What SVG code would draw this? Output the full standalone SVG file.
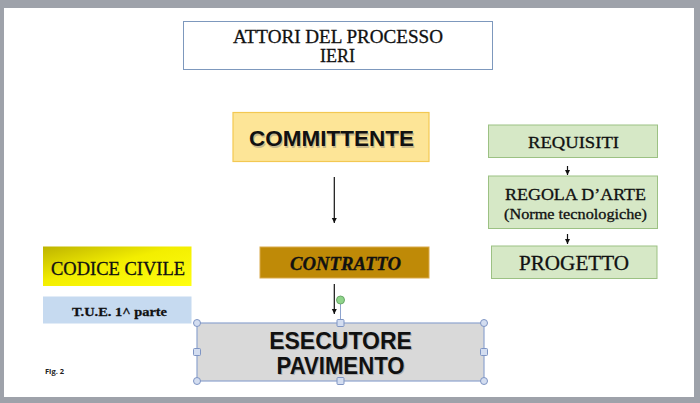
<svg xmlns="http://www.w3.org/2000/svg" width="700" height="403" viewBox="0 0 700 403">
<style>
.serif{font-family:"Liberation Serif","Times New Roman",serif;text-anchor:middle;fill:#111;stroke:#111;stroke-width:0.3}
.sans{font-family:"Liberation Sans",Arial,sans-serif;font-weight:bold;text-anchor:middle;fill:#111}
.green{fill:#d6e8c6;stroke:#9cc183;stroke-width:1}
.conn{stroke:#111;stroke-width:1.2;fill:none;marker-end:url(#ah)}
.hc{fill:#d3ddf0;stroke:#7f95c4;stroke-width:1}
.shadow{fill:#777;opacity:0.4}
</style>
<defs>
<marker id="ah" markerWidth="6" markerHeight="6" refX="5" refY="3" orient="auto" markerUnits="userSpaceOnUse">
<path d="M0,0.5 L5,3 L0,5.5 z" fill="#111"/>
</marker>
<linearGradient id="yg" x1="0" y1="0" x2="1" y2="1">
<stop offset="0" stop-color="#bdb300"/>
<stop offset="0.45" stop-color="#f3ee00"/>
<stop offset="1" stop-color="#ffff10"/>
</linearGradient>
</defs>
<rect x="0" y="0" width="700" height="403" fill="#9ea2aa"/>
<rect x="4" y="8" width="690" height="389" fill="#ffffff"/>

<g id="title">
<rect x="183.5" y="21.5" width="309" height="48" fill="#ffffff" stroke="#7d98bd" stroke-width="1"/>
<text class="serif" x="338" y="43" font-size="18.5" textLength="210" lengthAdjust="spacingAndGlyphs">ATTORI DEL PROCESSO</text>
<text class="serif" x="337.5" y="62" font-size="18.5" textLength="35" lengthAdjust="spacingAndGlyphs">IERI</text>
</g>

<g id="committente">
<rect x="233" y="112.5" width="196" height="49" fill="#fde597" stroke="#f3c852" stroke-width="1.2"/>
<text class="sans shadow" x="332.5" y="147.5" font-size="22.5">COMMITTENTE</text>
<text class="sans" x="331.5" y="146" font-size="22.5">COMMITTENTE</text>
</g>

<g id="contratto">
<rect x="260" y="247" width="169" height="31" fill="#bf8a07" stroke="#d9a94a" stroke-width="1"/>
<text class="serif" x="345.5" y="270" font-size="18.5" font-weight="bold" font-style="italic" textLength="111" lengthAdjust="spacingAndGlyphs">CONTRATTO</text>
</g>

<g id="codice-civile">
<rect x="43" y="246.5" width="148.5" height="39.5" fill="url(#yg)"/>
<text class="serif" x="118" y="274.5" font-size="18.5" textLength="134" lengthAdjust="spacingAndGlyphs">CODICE CIVILE</text>
</g>

<g id="tue">
<rect x="43" y="296.5" width="148.5" height="27" fill="#c6daf0"/>
<text class="serif" x="119.5" y="316" font-size="13.5" font-weight="bold" fill="#333" stroke="none" textLength="95" lengthAdjust="spacingAndGlyphs">T.U.E. 1^ parte</text>
</g>

<g id="requisiti">
<rect class="green" x="488.5" y="125" width="169" height="32.5"/>
<text class="serif" x="573.5" y="147.5" font-size="16" textLength="91" lengthAdjust="spacingAndGlyphs">REQUISITI</text>
</g>

<g id="regola-arte">
<rect class="green" x="488.5" y="176" width="169" height="52.5"/>
<text class="serif" x="575.5" y="200" font-size="16.5" textLength="141" lengthAdjust="spacingAndGlyphs">REGOLA D’ARTE</text>
<text class="serif" x="575.5" y="219" font-size="14" textLength="143" lengthAdjust="spacingAndGlyphs">(Norme tecnologiche)</text>
</g>

<g id="progetto">
<rect class="green" x="491.5" y="246" width="165.5" height="32.5"/>
<text class="serif" x="574" y="270" font-size="20" textLength="110" lengthAdjust="spacingAndGlyphs">PROGETTO</text>
</g>

<g id="esecutore">
<rect x="197" y="323" width="287" height="58" fill="#d9d9d9" stroke="#8ea4cf" stroke-width="1.2"/>
<text class="sans shadow" x="341.5" y="349.5" font-size="23">ESECUTORE</text>
<text class="sans" x="340.5" y="348.5" font-size="23">ESECUTORE</text>
<text class="sans shadow" x="341.5" y="375" font-size="23" textLength="128" lengthAdjust="spacingAndGlyphs">PAVIMENTO</text>
<text class="sans" x="340.5" y="374" font-size="23" textLength="128" lengthAdjust="spacingAndGlyphs">PAVIMENTO</text>
</g>

<g id="selection-handles">
<line x1="340.5" y1="304" x2="340.5" y2="323" stroke="#8ea4cf" stroke-width="1"/>
<circle cx="340.5" cy="300" r="4" fill="#8fd48a" stroke="#6aa86a" stroke-width="1"/>
<circle class="hc" cx="197" cy="323" r="3.5"/>
<circle class="hc" cx="484" cy="323" r="3.5"/>
<circle class="hc" cx="197" cy="381" r="3.5"/>
<circle class="hc" cx="484" cy="381" r="3.5"/>
<rect class="hc" x="337" y="319.5" width="7" height="7" rx="1"/>
<rect class="hc" x="337" y="377.5" width="7" height="7" rx="1"/>
<rect class="hc" x="193.5" y="348.5" width="7" height="7" rx="1"/>
<rect class="hc" x="480.5" y="348.5" width="7" height="7" rx="1"/>
</g>

<g id="connectors">
<line class="conn" x1="334.3" y1="177" x2="334.3" y2="223"/>
<line class="conn" x1="334.3" y1="284" x2="334.3" y2="314"/>
<line class="conn" x1="567.5" y1="166" x2="567.5" y2="175"/>
<line class="conn" x1="567.5" y1="234" x2="567.5" y2="244"/>
</g>

<text x="45" y="374" font-family="'Open Sans','Liberation Sans',sans-serif" font-size="7.5" font-weight="bold" fill="#222">Fig. 2</text>
</svg>
